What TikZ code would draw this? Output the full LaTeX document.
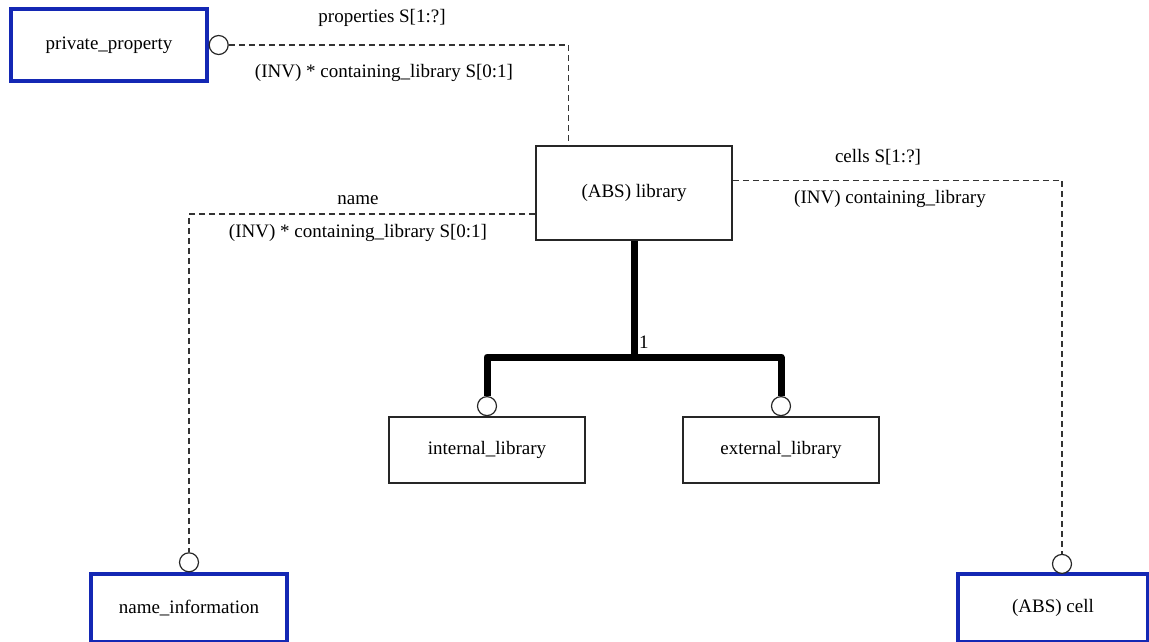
\documentclass[tikz,border=0pt]{standalone}
\usepackage{fontspec}
\setmainfont{Liberation Serif}
\usetikzlibrary{calc}
\definecolor{entblue}{RGB}{20,40,180}
\begin{document}
\begin{tikzpicture}[x=1pt,y=-1pt,
  txt/.style={font=\fontsize{19}{22}\selectfont, inner sep=0pt},
  ent/.style={draw=black!85, line width=1.6pt, fill=white, txt, minimum width=196pt, minimum height=66pt},
  ext/.style={ent, draw=entblue, line width=3.2pt},
  ring/.style={circle, draw=black!85, line width=1.2pt, fill=white, minimum size=19pt, inner sep=0pt},
  rel/.style={draw=black!80, line width=1.3pt, dash pattern=on 6pt off 4pt},
  sub/.style={line width=7pt, line join=round}
]
\useasboundingbox (0,0) rectangle (1149,641);
\fill[white] (0,0) rectangle (1149,641);

% entities
\node[ent, minimum height=94pt] (lib) at (634,193) {(ABS) library};
\node[ext, minimum height=72pt] (pp) at (109,45) {private\_property};
\node[ent] (il) at (487,450) {internal\_library};
\node[ent] (el) at (781,450) {external\_library};
\node[ext, minimum height=68pt] (ni) at (189,608) {name\_information};
\node[ext, minimum width=190pt, minimum height=68pt] (cell) at (1053,608) {(ABS) cell};

% end rings
\node[ring, anchor=west] (rpp) at (pp.east) {};
\node[ring, anchor=south] (rni) at (ni.north) {};
\node[ring, anchor=south] (rcell) at (1062,574) {};
\node[ring, anchor=south] (rint) at (il.north) {};
\node[ring, anchor=south] (rext) at (el.north) {};

% dashed relationships
\draw[rel] (rpp.east) -| ($(lib.north west)!0.17!(lib.north east)$);
\draw[rel] ($(lib.north west)!0.72!(lib.south west)$) -| (rni.north);
\draw[rel] ($(lib.north east)!0.37!(lib.south east)$) -| (rcell.north);

% subtype tree
\coordinate (jn) at (634,357);
\draw[sub] (lib.south) -- (jn);
\draw[sub] (rint.north) -- (rint.north |- jn) -- (rext.north |- jn) -- (rext.north);
\node[txt, anchor=south west] (one) at ([xshift=5pt, yshift=8pt]jn) {1};

% relationship labels
\node[txt] (lprop) at (382,18) {properties S[1:?]};
\node[txt] (linv1) at (384,73) {(INV) * containing\_library S[0:1]};
\node[txt] (lname) at (358,200) {name};
\node[txt] (linv2) at (358,233) {(INV) * containing\_library S[0:1]};
\node[txt] (lcells) at (878,157) {cells S[1:?]};
\node[txt] (linv3) at (890,199) {(INV) containing\_library};
\end{tikzpicture}
\end{document}
